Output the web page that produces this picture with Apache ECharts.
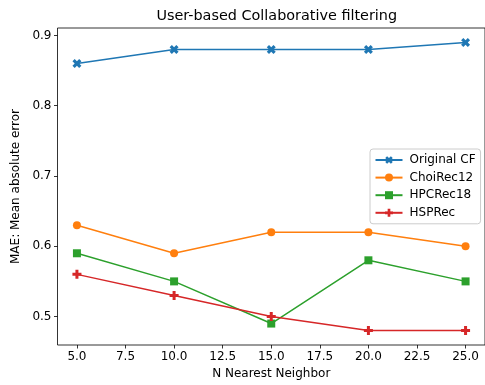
<!DOCTYPE html>
<html><head><meta charset="utf-8">
<script src="https://cdn.jsdelivr.net/npm/echarts@6/dist/echarts.min.js"></script>
<style>html,body{margin:0;padding:0;background:#fff}#c{width:485px;height:385px}</style>
</head><body><div id="c"></div>
<script>
const neighbors = [5, 10, 15, 20, 25];
const originalCF = [0.86, 0.88, 0.88, 0.88, 0.89];
const choiRec12 = [0.63, 0.59, 0.62, 0.62, 0.60];
const hpcRec18 = [0.59, 0.55, 0.49, 0.58, 0.55];
const hspRec = [0.56, 0.53, 0.50, 0.48, 0.48];
const xTicks = [5, 7.5, 10, 12.5, 15, 17.5, 20, 22.5, 25];
const yTicks = [0.5, 0.6, 0.7, 0.8, 0.9];

const plusPath = 'path://M1,0H2V1H3V2H2V3H1V2H0V1H1Z';
const font = 'DejaVu Sans';
function mk(name, vals, color, symbol, size, rot) {
  return {
    name, type: 'line', data: neighbors.map((x, i) => [x, vals[i]]),
    symbol, symbolSize: size, symbolRotate: rot || 0, showAllSymbol: true,
    lineStyle: { color, width: 1.5 }, itemStyle: { color, borderWidth: 0 },
    emphasis: { disabled: true }, animation: false, z: 3
  };
}
const chart = echarts.init(document.getElementById('c'), null, { renderer: 'canvas' });
chart.setOption({
  animation: false,
  backgroundColor: '#fff',
  title: { text: 'User-based Collaborative filtering', left: 271.75, top: 4, textAlign: 'center',
    textStyle: { fontFamily: font, fontSize: 14.4, fontWeight: 'normal', color: '#000' } },
  grid: { left: 57.5, top: 28, width: 428.5, height: 319, show: true, borderColor: '#000', borderWidth: 0.8, backgroundColor: 'transparent' },
  legend: {
    left: 370, top: 149, orient: 'vertical', itemGap: 5.6, itemWidth: 27, itemHeight: 10,
    padding: [5, 5, 5, 4.5], borderColor: '#ccc', borderWidth: 1, borderRadius: 3, backgroundColor: 'rgba(255,255,255,0.8)',
    textStyle: { fontFamily: font, fontSize: 12, lineHeight: 12, color: '#000', padding: [0, 0, 0, 2] },
    data: ['Original CF', 'ChoiRec12', 'HPCRec18', 'HSPRec']
  },
  xAxis: {
    type: 'value', min: 4, max: 26, name: 'N Nearest Neighbor', nameLocation: 'middle', nameGap: 23,
    nameTextStyle: { fontFamily: font, fontSize: 12, color: '#000' },
    axisLine: { show: false },
    axisTick: { show: true, length: 3.5, lineStyle: { color: '#000', width: 0.8 }, customValues: xTicks },
    axisLabel: { fontFamily: font, fontSize: 12, color: '#000', margin: 6, customValues: xTicks, formatter: v => v.toFixed(1) },
    splitLine: { show: false }
  },
  yAxis: {
    type: 'value', min: 0.4595, max: 0.9105, name: 'MAE: Mean absolute error', nameLocation: 'middle', nameGap: 36,
    nameTextStyle: { fontFamily: font, fontSize: 12, color: '#000' },
    axisLine: { show: false },
    axisTick: { show: true, length: 3.5, lineStyle: { color: '#000', width: 0.8 }, customValues: yTicks },
    axisLabel: { fontFamily: font, fontSize: 12, color: '#000', margin: 6, customValues: yTicks, formatter: v => v.toFixed(1) },
    splitLine: { show: false }
  },
  series: [
    mk('Original CF', originalCF, '#1f77b4', plusPath, 9.5, 45),
    mk('ChoiRec12', choiRec12, '#ff7f0e', 'circle', 8),
    mk('HPCRec18', hpcRec18, '#2ca02c', 'rect', 8),
    mk('HSPRec', hspRec, '#d62728', plusPath, 9)
  ]
});
</script></body></html>
